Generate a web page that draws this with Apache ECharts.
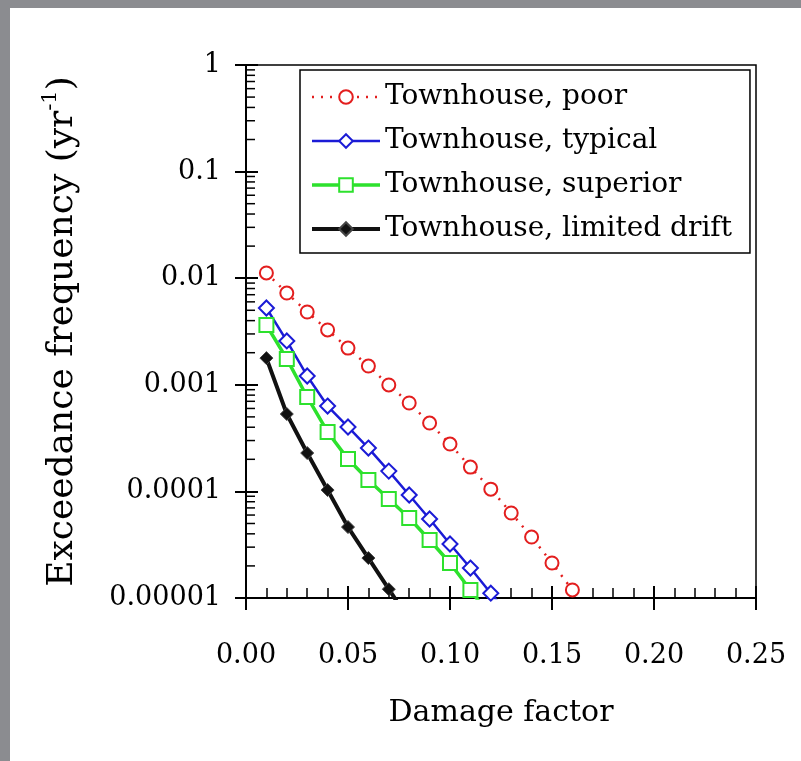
<!DOCTYPE html>
<html>
<head>
<meta charset="utf-8">
<script src="https://cdn.jsdelivr.net/npm/echarts@6/dist/echarts.min.js"></script>
<style>
  html, body { margin: 0; padding: 0; background: #fff; }
  #main { position: absolute; left: 0; top: 0; width: 801px; height: 761px; }
  .edge { position: absolute; background: #8b8c90; z-index: 5; }
</style>
</head>
<body>
<div id="main"></div>
<div class="edge" style="left:0;top:0;width:801px;height:8px"></div>
<div class="edge" style="left:0;top:0;width:10px;height:761px"></div>
<script>
// damage factor values (x)
var poorX = [0.01, 0.02, 0.03, 0.04, 0.05, 0.06, 0.07, 0.08, 0.09, 0.10, 0.11, 0.12, 0.13, 0.14, 0.15, 0.16]
var poorY = [0.0112, 0.00726, 0.00482, 0.00327, 0.00221, 0.0015, 0.000996, 0.000675, 0.000438, 0.000278, 0.000169, 0.000105, 0.0000627, 0.0000373, 0.0000213, 0.0000119]

// last value of the next three lies below the axis, the line runs off the frame there
var typicalX = [0.01, 0.02, 0.03, 0.04, 0.05, 0.06, 0.07, 0.08, 0.09, 0.10, 0.11, 0.12, 0.13]
var typicalY = [0.00525, 0.00258, 0.00121, 0.000632, 0.000402, 0.000255, 0.000155, 0.0000925, 0.0000551, 0.0000321, 0.0000191, 0.0000111, 0.0000065]

var superiorX = [0.01, 0.02, 0.03, 0.04, 0.05, 0.06, 0.07, 0.08, 0.09, 0.10, 0.11, 0.12]
var superiorY = [0.00364, 0.00175, 0.000769, 0.000361, 0.000201, 0.000128, 0.0000849, 0.0000563, 0.000035, 0.0000213, 0.0000119, 0.0000066]

var driftX = [0.01, 0.02, 0.03, 0.04, 0.05, 0.06, 0.07, 0.08]
var driftY = [0.00178, 0.000532, 0.000229, 0.000103, 0.0000463, 0.0000237, 0.0000121, 0.0000062]

var seriesNames = ['Townhouse, poor', 'Townhouse, typical', 'Townhouse, superior', 'Townhouse, limited drift']
var yTickLabels = ['0.00001', '0.0001', '0.001', '0.01', '0.1', '1']

var FONT = 'DejaVu Serif'

function pairs(xs, ys) {
  return xs.map(function (x, i) { return [x, ys[i]] })
}

// log minor ticks 2..9 in each decade
var minorTicks = []
for (var e = -5; e < 0; e++) {
  for (var k = 2; k <= 9; k++) {
    minorTicks.push(k * Math.pow(10, e))
  }
}

var mychart = echarts.init(document.getElementById('main'))

var option = {
  animation: false,
  backgroundColor: 'transparent',
  grid: {
    left: 246, right: 45, top: 65, bottom: 163,
    show: true, borderColor: '#000', borderWidth: 1.5, backgroundColor: 'transparent'
  },
  legend: {
    data: seriesNames,
    orient: 'vertical',
    left: 300,
    top: 70,
    backgroundColor: '#fff',
    borderColor: '#000',
    borderWidth: 1.5,
    borderRadius: 0,
    padding: [13, 18, 10, 10],
    itemWidth: 68,
    itemHeight: 17,
    itemGap: 16,
    selectedMode: false,
    lineStyle: { width: 'inherit' },
    textStyle: { fontFamily: FONT, fontSize: 28, color: '#000' }
  },
  xAxis: [
    {
      type: 'value', min: 0, max: 0.25, interval: 0.05, position: 'bottom',
      axisLine: { onZero: false, lineStyle: { color: '#000', width: 2 } },
      axisTick: { inside: false, length: 12, lineStyle: { color: '#000', width: 2 } },
      axisLabel: {
        margin: 44, fontFamily: FONT, fontSize: 27, color: '#000',
        formatter: function (v) { return v.toFixed(2) }
      },
      splitLine: { show: false },
      name: 'Damage factor',
      nameLocation: 'middle',
      nameGap: 100,
      nameTextStyle: { fontFamily: FONT, fontSize: 30, color: '#000' }
    },
    {
      type: 'value', min: 0, max: 0.25, interval: 0.05, position: 'bottom',
      axisLine: { show: false, onZero: false },
      axisTick: { inside: true, length: 12, lineStyle: { color: '#000', width: 2 } },
      minorTick: { show: true, splitNumber: 5, length: 10, lineStyle: { color: '#000', width: 1.5 } },
      axisLabel: { show: false },
      splitLine: { show: false }
    }
  ],
  yAxis: [
    {
      type: 'log', logBase: 10, min: 0.00001, max: 1, position: 'left',
      axisLine: { onZero: false, lineStyle: { color: '#000', width: 2 } },
      axisTick: { inside: false, length: 11, lineStyle: { color: '#000', width: 2 } },
      axisLabel: {
        margin: 25, fontFamily: FONT, fontSize: 27, color: '#000',
        formatter: function (v) { return yTickLabels[Math.round(Math.log10(v)) + 5] }
      },
      splitLine: { show: false },
      name: '{a|Exceedance frequency (yr}{s|-1}{a|)}',
      nameLocation: 'middle',
      nameGap: 160,
      nameTextStyle: {
        rich: {
          a: { fontFamily: FONT, fontSize: 36, color: '#000', lineHeight: 46 },
          s: { fontFamily: FONT, fontSize: 21, color: '#000', verticalAlign: 'top' }
        }
      }
    },
    {
      type: 'log', logBase: 10, min: 0.00001, max: 1, position: 'left',
      axisLine: { show: false, onZero: false },
      axisTick: { inside: true, length: 12, lineStyle: { color: '#000', width: 2 } },
      axisLabel: { show: false },
      splitLine: { show: false }
    }
  ],
  series: [
    {
      type: 'custom',
      silent: true,
      xAxisIndex: 0, yAxisIndex: 0,
      data: minorTicks.map(function (v) { return [0, v] }),
      renderItem: function (params, api) {
        var p = api.coord([0, api.value(1)])
        return {
          type: 'line',
          shape: { x1: p[0], y1: p[1], x2: p[0] + 9, y2: p[1] },
          style: { stroke: '#000', lineWidth: 1.5 }
        }
      }
    },
    {
      name: seriesNames[0], type: 'line', data: pairs(poorX, poorY), clip: true,
      symbol: 'emptyCircle', symbolSize: 13, color: '#e31e1e',
      itemStyle: { color: '#e31e1e', borderWidth: 2.5 },
      lineStyle: { color: '#e31e1e', width: 2.5, type: [2, 7] }
    },
    {
      name: seriesNames[1], type: 'line', data: pairs(typicalX, typicalY), clip: true,
      symbol: 'emptyDiamond', symbolSize: 15, color: '#1b1bd6',
      itemStyle: { color: '#1b1bd6', borderWidth: 2.5 },
      lineStyle: { color: '#1b1bd6', width: 2.5 }
    },
    {
      name: seriesNames[2], type: 'line', data: pairs(superiorX, superiorY), clip: true,
      symbol: 'emptyRect', symbolSize: 14, color: '#2de12d',
      itemStyle: { color: '#2de12d', borderWidth: 2.5 },
      lineStyle: { color: '#2de12d', width: 3.5 }
    },
    {
      name: seriesNames[3], type: 'line', data: pairs(driftX, driftY), clip: true,
      symbol: 'diamond', symbolSize: 13, color: '#111',
      itemStyle: { color: '#111', borderColor: '#444', borderWidth: 1 },
      lineStyle: { color: '#111', width: 4 }
    }
  ]
}

mychart.setOption(option)
</script>
</body>
</html>
